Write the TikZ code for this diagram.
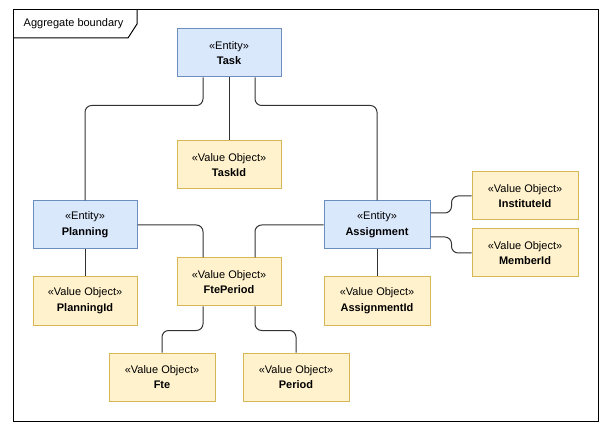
\documentclass[tikz,border=0pt]{standalone}
\usepackage{fontspec}
\setmainfont{Liberation Sans}
\definecolor{entityfill}{HTML}{DAE8FC}
\definecolor{entityline}{HTML}{6C8EBF}
\definecolor{valuefill}{HTML}{FFF2CC}
\definecolor{valueline}{HTML}{D6B656}
\begin{document}
\begin{tikzpicture}[x=0.75pt,y=-0.75pt,
  box/.style={minimum width=78pt,minimum height=36pt,inner sep=0pt,align=center,
    line width=0.75pt,font=\fontsize{8.25}{11.8}\selectfont},
  entity/.style={box,draw=entityline,fill=entityfill},
  valueobj/.style={box,draw=valueline,fill=valuefill},
  link/.style={draw=black!80,line width=0.75pt,rounded corners=5pt}]
\useasboundingbox (0,0) rectangle (611,431);
% aggregate frame
\draw [black,line width=0.75pt] (13,10) rectangle (598,421);
\node [anchor=west,font=\fontsize{8.25}{11}\selectfont] (boundary) at (19,24) {Aggregate boundary};
\draw [black,line width=0.75pt] (13,38) -- (128,38) -- (137,24) -- (137,10);
% nodes
\node [entity] (task) at (229,53) {«Entity»\\\textbf{Task}};
\node [valueobj] (taskid) at (229,165) {«Value Object»\\\textbf{TaskId}};
\node [entity] (planning) at (85,225) {«Entity»\\\textbf{Planning}};
\node [valueobj] (planningid) at (85,301) {«Value Object»\\\textbf{PlanningId}};
\node [valueobj] (fteperiod) at (229,282) {«Value Object»\\\textbf{FtePeriod}};
\node [entity,minimum width=79.5pt] (assignment) at (377,225) {«Entity»\\\textbf{Assignment}};
\node [valueobj,minimum width=79.5pt] (assignmentid) at (377,301) {«Value Object»\\\textbf{AssignmentId}};
\node [valueobj,minimum width=79.5pt] (instituteid) at (525,196) {«Value Object»\\\textbf{InstituteId}};
\node [valueobj,minimum width=79.5pt] (memberid) at (525,253) {«Value Object»\\\textbf{MemberId}};
\node [valueobj,minimum width=79.5pt] (fte) at (162,377) {«Value Object»\\\textbf{Fte}};
\node [valueobj,minimum width=79.5pt] (period) at (296,377) {«Value Object»\\\textbf{Period}};
% connectors
\draw [link] ([xshift=-19.5pt]task.south) -- ++(0,28) -| (planning.north);
\draw [link] (task.south) -- (taskid.north);
\draw [link] ([xshift=19.5pt]task.south) -- ++(0,28) -| (assignment.north);
\draw [link] (planning.south) -- (planningid.north);
\draw [link] (planning.east) -| ([xshift=-19.5pt]fteperiod.north);
\draw [link] (assignment.west) -| ([xshift=19.5pt]fteperiod.north);
\draw [link] ([xshift=-19.5pt]fteperiod.south) -- ++(0,24) -| (fte.north);
\draw [link] ([xshift=19.5pt]fteperiod.south) -- ++(0,24) -| (period.north);
\draw [link] (assignment.south) -- (assignmentid.north);
\draw [link] ([yshift=9pt]assignment.east) -- ++(21,0) |- (instituteid.west);
\draw [link] ([yshift=-9pt]assignment.east) -- ++(21,0) |- (memberid.west);
\end{tikzpicture}
\end{document}
